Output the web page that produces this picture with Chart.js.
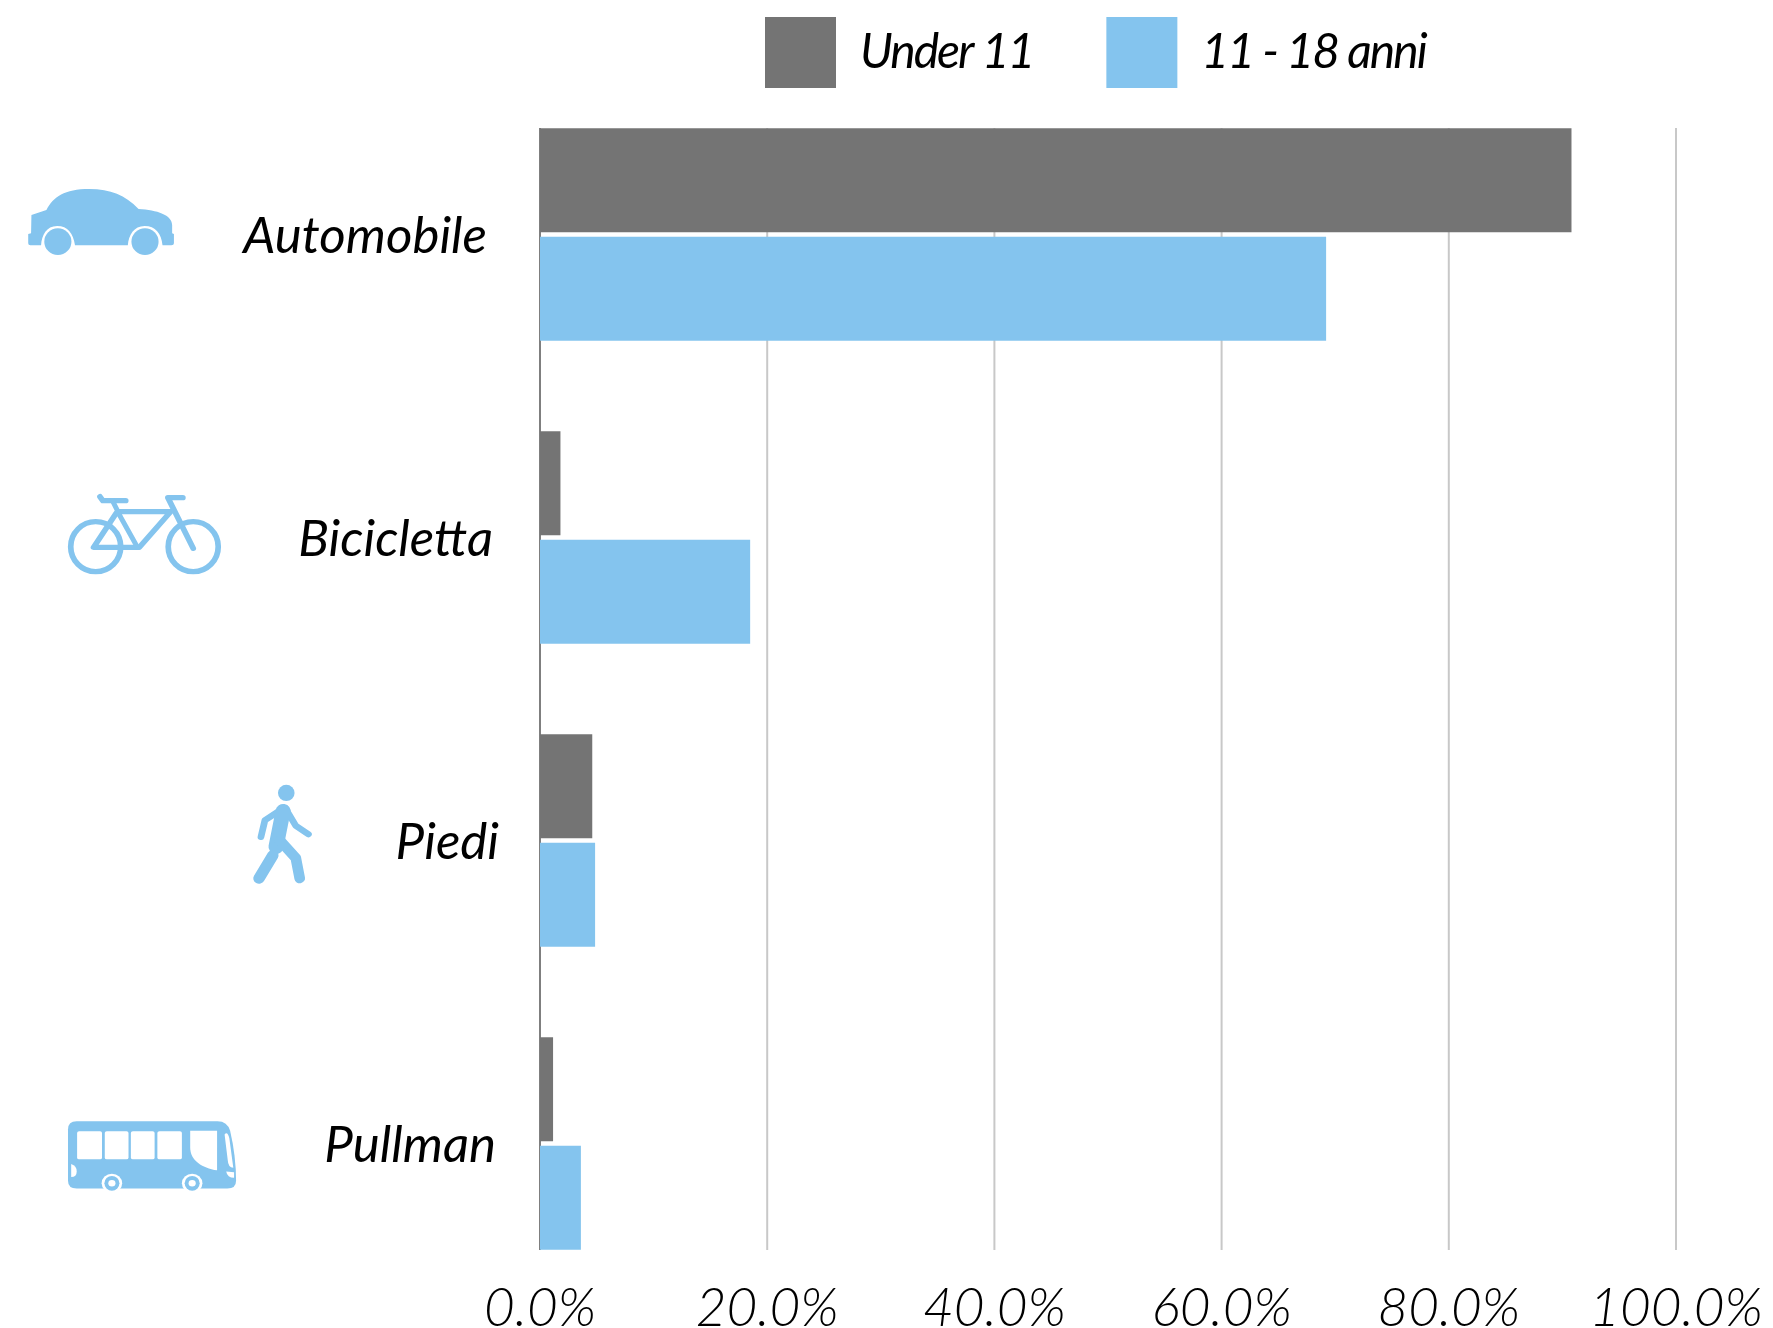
<!DOCTYPE html>
<html>
<head>
<meta charset="utf-8">
<style>html,body{margin:0;padding:0;background:#fff}canvas{display:block}</style>
<script src="https://cdn.jsdelivr.net/npm/chart.js@4"></script>
</head>
<body>
<canvas id="c" width="1773" height="1328"></canvas>
<script>
const categories = ['Automobile', 'Bicicletta', 'Piedi', 'Pullman'];
const under11 = [90.8, 1.8, 4.6, 1.15];
const anni1118 = [69.2, 18.5, 4.85, 3.6];
const seriesNames = ['Under 11', '11 - 18 anni'];
const xTickLabels = ['0.0%', '20.0%', '40.0%', '60.0%', '80.0%', '100.0%'];

const GRAY = '#747474', BLUE = '#84c4ee';

function drawIcons(ctx) {
  const stroke = (pts, w) => {
    ctx.lineWidth = w; ctx.beginPath();
    pts.forEach((p, i) => i ? ctx.lineTo(p[0], p[1]) : ctx.moveTo(p[0], p[1]));
    ctx.stroke();
  };
  ctx.save();
  ctx.lineCap = 'round'; ctx.lineJoin = 'round';

  ctx.save();
  ctx.translate(0, 150); ctx.scale(1 / 2.8, 1 / 3);
  ctx.fillStyle = BLUE; ctx.strokeStyle = BLUE;
  ctx.fill(new Path2D('M88,195 L130,180 C150,140 180,117 250,117 C310,117 350,135 388,177 C440,180 482,195 482,225 L482,250 L487,252 L487,280 Q487,286 480,286 L455,286 C452,250 435,228 405,228 C375,228 360,255 358,286 L210,286 C205,250 190,228 160,228 C130,228 117,255 115,286 L85,286 Q79,286 79,280 L79,252 L87,250 Z'));
  [162, 406].forEach(x => { ctx.beginPath(); ctx.ellipse(x, 275, 38, 40, 0, 0, 7); ctx.fill(); });
  [268, 541].forEach(x => { ctx.beginPath(); ctx.lineWidth = 16; ctx.ellipse(x, 1190, 70, 75, 0, 0, 7); ctx.stroke(); });
  stroke([[325, 1090], [262, 1192], [390, 1192], [478, 1085], [335, 1085]], 16);
  stroke([[332, 1090], [385, 1192]], 14);
  stroke([[280, 1040], [288, 1052], [352, 1052]], 16);
  stroke([[315, 1052], [335, 1095]], 14);
  stroke([[512, 1043], [470, 1043], [541, 1195]], 16);
  ctx.restore();

  ctx.save();
  ctx.translate(0, 750); ctx.scale(1 / 2.529, 1 / 2.705);
  ctx.fillStyle = BLUE; ctx.strokeStyle = BLUE;
  ctx.beginPath(); ctx.ellipse(724, 116, 21, 22, 0, 0, 7); ctx.fill();
  stroke([[716, 158], [670, 190], [660, 235]], 17);
  stroke([[722, 158], [748, 205], [780, 228]], 17);
  ctx.lineWidth = 38; ctx.beginPath(); ctx.moveTo(716, 165); ctx.lineTo(698, 262); ctx.stroke();
  stroke([[690, 285], [655, 347]], 29);
  stroke([[708, 245], [748, 292], [758, 347]], 27);
  ctx.fill(new Path2D('M194,1004 L550,1004 Q575,1004 582,1030 Q597,1100 597,1165 Q597,1186 575,1186 L194,1186 Q172,1186 172,1165 L172,1026 Q172,1004 194,1004 Z'));
  ctx.fillStyle = '#fff';
  [[195, 63], [265, 60], [331, 60], [398, 62]].forEach(r => { ctx.beginPath(); ctx.roundRect(r[0], 1031, r[1], 76, 5); ctx.fill(); });
  ctx.fill(new Path2D('M481,1030 L549,1030 L549,1137 C510,1130 481,1110 481,1075 Z'));
  ctx.fill(new Path2D('M568,1040 Q575,1030 580,1050 L590,1130 Q577,1130 576,1110 Z'));
  ctx.fill(new Path2D('M180,1120 Q194,1125 194,1140 Q194,1155 180,1155 Z'));
  ctx.fill(new Path2D('M572,1140 L592,1142 L592,1157 Q575,1157 572,1140 Z'));
  [283, 486].forEach(x => {
    ctx.fillStyle = '#fff'; ctx.beginPath(); ctx.ellipse(x, 1172, 26, 26, 0, 0, 7); ctx.fill();
    ctx.fillStyle = BLUE; ctx.beginPath(); ctx.ellipse(x, 1172, 19, 20, 0, 0, 7); ctx.fill();
    ctx.fillStyle = '#fff'; ctx.beginPath(); ctx.ellipse(x, 1172, 9, 9, 0, 0, 7); ctx.fill();
  });
  ctx.restore();
  ctx.restore();
}

const layoutTweaks = {
  id: 'layoutTweaks',
  afterLayout(chart) {
    const lg = chart.legend, p = lg.options.labels.padding;
    lg.left = 765 - p; lg.right = 1773; lg.top = 17 - p; lg.bottom = 125;
    if (!lg._narrowed) {
      lg._narrowed = true;
      const d = lg.draw;
      lg.draw = function () {
        const c = this.ctx;
        c.save(); c.letterSpacing = '-2px'; d.call(this); c.restore();
      };
    }
    const y = chart.scales.y, x = chart.scales.x, a = chart.chartArea;
    y.top = 83; y.bottom = 1295; y.height = 1212; y.configure();
    x.top = 1283; x.bottom = 1328; x.height = 45; x.configure();
    a.top = 83; a.bottom = 1295; a.height = 1212;
  },
  beforeDatasetsDraw(chart) {
    const ctx = chart.ctx, xs = chart.scales.x;
    ctx.save();
    xs.ticks.forEach(t => {
      const x = xs.getPixelForValue(t.value);
      ctx.strokeStyle = t.value === 0 ? '#7f7f7f' : '#c8c8c8';
      ctx.lineWidth = 2;
      ctx.beginPath(); ctx.moveTo(x, 128); ctx.lineTo(x, 1250); ctx.stroke();
    });
    ctx.restore();
  },
  beforeDraw(chart) {
    const items = chart.scales.y.getLabelItems();
    const shifts = [-12, -6, 0, -3];
    items.forEach((it, i) => { it.options.translation = [it.options.translation[0] + shifts[i], it.options.translation[1] + 2]; });
  },
  afterDraw(chart) { drawIcons(chart.ctx); }
};

new Chart(document.getElementById('c'), {
  type: 'bar',
  plugins: [layoutTweaks],
  data: {
    labels: categories,
    datasets: [
      { label: seriesNames[0], data: under11, backgroundColor: GRAY, borderWidth: 0, categoryPercentage: 0.716, barPercentage: 0.958 },
      { label: seriesNames[1], data: anni1118, backgroundColor: BLUE, borderWidth: 0, categoryPercentage: 0.716, barPercentage: 0.958 }
    ]
  },
  options: {
    indexAxis: 'y',
    responsive: false,
    animation: false,
    layout: { padding: { left: 0, right: 97, top: 0, bottom: 0 } },
    plugins: {
      tooltip: { enabled: false },
      legend: {
        position: 'top', align: 'start', maxHeight: 83,
        labels: {
          boxWidth: 71, boxHeight: 71, padding: 73, color: '#000',
          font: { family: 'Lato', size: 48, style: 'italic' }
        }
      }
    },
    scales: {
      x: {
        min: 0, max: 100,
        afterFit(s) { s.height = 33; },
        grid: { display: false, drawTicks: false },
        border: { display: false },
        ticks: {
          stepSize: 20, maxRotation: 0, autoSkip: false, padding: -6, color: '#000',
          font: { family: 'Lato', size: 53, style: 'italic', weight: 300 },
          callback: (v) => xTickLabels[v / 20]
        }
      },
      y: {
        afterFit(s) { s.width = 540; },
        grid: { display: false, drawTicks: false },
        border: { display: false },
        ticks: {
          padding: 41, color: '#000',
          font: { family: 'Lato', size: 51, style: 'italic' }
        }
      }
    }
  }
});
</script>
</body>
</html>
